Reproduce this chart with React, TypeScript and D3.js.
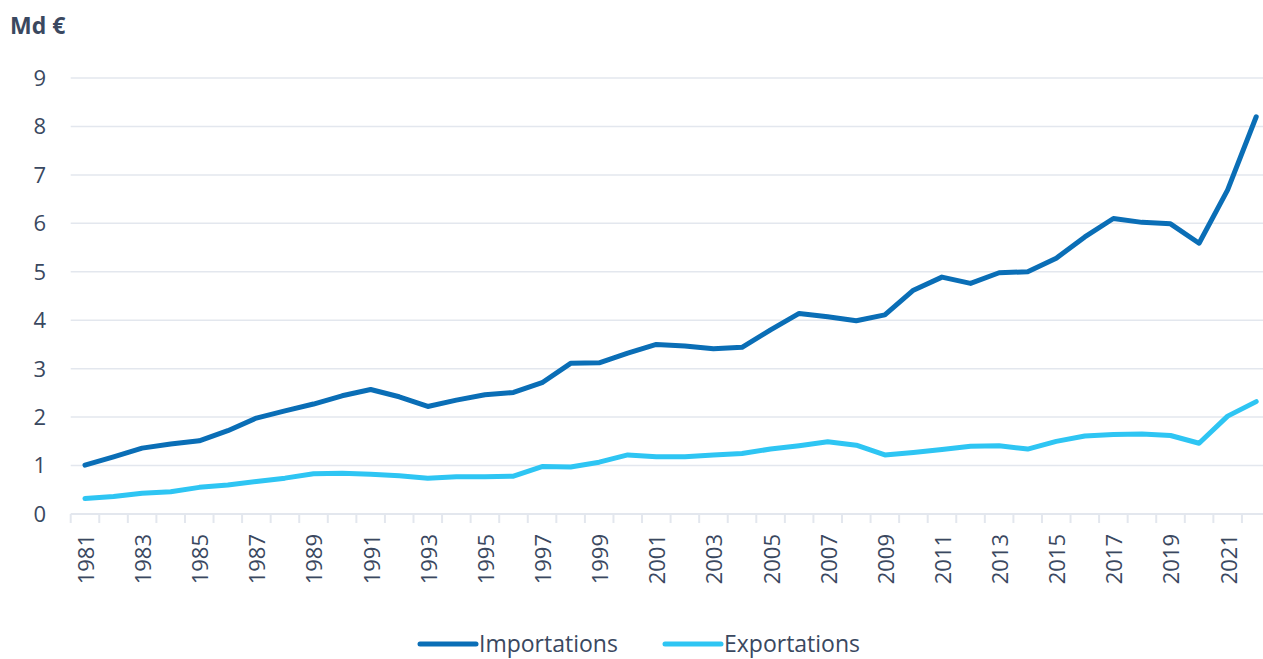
import React, { useEffect, useRef } from 'react'
import * as d3 from 'd3'

const years = d3.range(1981, 2023)

const importations = [
  1.01, 1.18, 1.36, 1.445, 1.51, 1.72, 1.98, 2.13, 2.27, 2.44,
  2.57, 2.42, 2.22, 2.35, 2.46, 2.51, 2.71, 3.11, 3.12, 3.32,
  3.5, 3.47, 3.41, 3.44, 3.8, 4.14, 4.07, 3.99, 4.11, 4.62,
  4.89, 4.76, 4.98, 5.0, 5.28, 5.72, 6.1, 6.02, 5.99, 5.59,
  6.69, 8.2,
]

const exportations = [
  0.32, 0.36, 0.43, 0.46, 0.55, 0.6, 0.67, 0.74, 0.83, 0.84,
  0.82, 0.79, 0.74, 0.77, 0.77, 0.78, 0.98, 0.97, 1.07, 1.22,
  1.18, 1.18, 1.22, 1.25, 1.34, 1.41, 1.49, 1.42, 1.22, 1.27,
  1.33, 1.4, 1.41, 1.34, 1.5, 1.61, 1.64, 1.65, 1.62, 1.46,
  2.02, 2.32,
]

const yTicks = [0, 1, 2, 3, 4, 5, 6, 7, 8, 9]

const series = [
  { name: 'Importations', values: importations, color: '#0a6eb6' },
  { name: 'Exportations', values: exportations, color: '#2ec5f3' },
]

const textColor = '#3a4860'
const gridColor = '#e3e7ee'
const fontFamily = '"Open Sans", Lato, sans-serif'

export default function App() {
  const ref = useRef<SVGSVGElement>(null)

  useEffect(() => {
    const svg = d3.select(ref.current)
    svg.selectAll('*').remove()

    const x = d3.scaleBand<number>()
      .domain(years)
      .range([70.7, 1270.5])

    const y = d3.scaleLinear()
      .domain([0, 9])
      .range([514, 78])

    const g = svg.append('g').attr('font-family', fontFamily)

    // unit label
    g.append('text')
      .attr('x', 10)
      .attr('y', 34)
      .attr('font-size', 23)
      .attr('font-weight', 700)
      .attr('fill', textColor)
      .text('Md €')

    // grid + y labels
    g.append('g')
      .selectAll('line')
      .data(yTicks)
      .enter().append('line')
        .attr('x1', 70.7)
        .attr('x2', 1263)
        .attr('y1', d => y(d))
        .attr('y2', d => y(d))
        .attr('stroke', gridColor)
        .attr('stroke-width', d => d === 0 ? 2 : 1.5)

    g.append('g')
      .selectAll('text')
      .data(yTicks)
      .enter().append('text')
        .attr('x', 46)
        .attr('y', d => y(d))
        .attr('dy', '0.36em')
        .attr('text-anchor', 'end')
        .attr('font-size', 22)
        .attr('fill', textColor)
        .text(d => d)

    // x ticks at band boundaries
    const bounds = years.map(d => x(d) as number).concat([x.range()[1]])
    g.append('g')
      .selectAll('line')
      .data(bounds)
      .enter().append('line')
        .attr('x1', d => d)
        .attr('x2', d => d)
        .attr('y1', 514)
        .attr('y2', 523)
        .attr('stroke', gridColor)
        .attr('stroke-width', 2)

    const cx = (d: number) => (x(d) as number) + x.bandwidth() / 2

    g.append('g')
      .selectAll('text')
      .data(years.filter(d => (d - 1981) % 2 === 0))
      .enter().append('text')
        .attr('transform', d => 'translate(' + (cx(d) + 1) + ',534) rotate(-90)')
        .attr('dy', '0.36em')
        .attr('text-anchor', 'end')
        .attr('font-size', 22)
        .attr('fill', textColor)
        .text(d => d)

    // lines
    const line = d3.line<number>()
      .x((d, i) => cx(years[i]))
      .y(d => y(d))

    g.append('g')
      .selectAll('path')
      .data(series)
      .enter().append('path')
        .attr('d', d => line(d.values))
        .attr('fill', 'none')
        .attr('stroke', d => d.color)
        .attr('stroke-width', 5)
        .attr('stroke-linejoin', 'round')
        .attr('stroke-linecap', 'round')

    // legend
    const legendX = [420, 665]
    const legend = g.append('g')
      .selectAll('g')
      .data(series)
      .enter().append('g')
        .attr('transform', (d, i) => 'translate(' + legendX[i] + ',644)')

    legend.append('line')
      .attr('x1', 0)
      .attr('x2', 56)
      .attr('stroke', d => d.color)
      .attr('stroke-width', 5)
      .attr('stroke-linecap', 'round')

    legend.append('text')
      .attr('x', 59)
      .attr('dy', '0.36em')
      .attr('font-size', 23)
      .attr('fill', textColor)
      .text(d => d.name)
  }, [])

  return (
    <svg
      ref={ref}
      width={1263}
      height={659}
      style={{ position: 'absolute', left: 0, top: 0, background: '#fff' }}
    />
  )
}
